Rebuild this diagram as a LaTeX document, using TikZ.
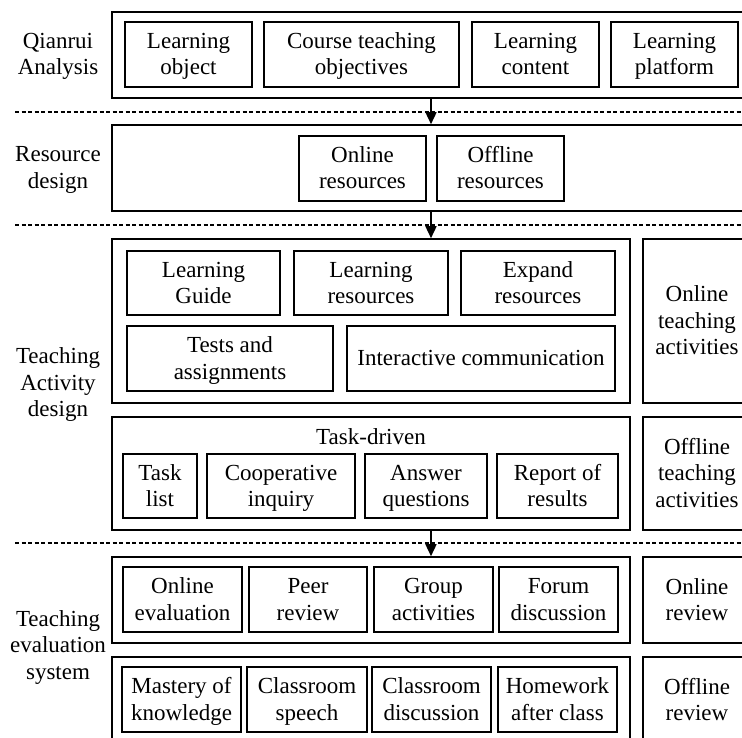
\documentclass[tikz,border=0pt]{standalone}
\usepackage{fontspec}
\setmainfont{Liberation Serif}
\usepackage{array}
\usepackage{tikz}
\usetikzlibrary{arrows.meta,positioning}

% every text line sits on a strut of 20.5pt up and 6pt down
\newcommand{\boxtext}[1]{\begin{tabular}{@{}>{\rule[-6pt]{0pt}{26.5pt}}c@{}}#1\end{tabular}}

\begin{document}
\begin{tikzpicture}[
    x=1pt, y=-1pt,
    every node/.style={font=\fontsize{23}{10}\selectfont, inner sep=0pt},
    frame/.style 2 args={draw, line width=1.6pt, minimum width=#1pt, minimum height=#2pt},
    item/.style 2 args={draw, line width=1.6pt, minimum width=#1pt, minimum height=#2pt},
    sep/.style={line width=1.5pt, dash pattern=on 4pt off 2.5pt},
    arr/.style={-{Triangle[length=12pt, width=11pt]}, line width=1.5pt}
]
    \useasboundingbox (0,0) rectangle (742,738);
    \clip (0,0) rectangle (742,738);

    % stage 1: analysis
    \node[frame={638}{86}] (ana) at (431,55) {};
    \node[item={127}{65}] (obj) at (188.5,54.5) {\boxtext{Learning\\object}};
    \node[item={195}{65}] (goal) at (361.5,54.5) {\boxtext{Course teaching\\objectives}};
    \node[item={127}{65}] (cont) at (535.5,54.5) {\boxtext{Learning\\content}};
    \node[item={127}{65}] (plat) at (674.5,54.5) {\boxtext{Learning\\platform}};
    \node (anaL) at (58,54.5) {\boxtext{Qianrui\\Analysis}};
    \draw[sep] (15,112) -- (742,112);

    % stage 2: resources
    \node[frame={638}{86}] (res) at (431,168) {};
    \node[item={127}{65}] (onres) at (362.5,168.5) {\boxtext{Online\\resources}};
    \node[item={127}{65}] (offres) at (500.5,168.5) {\boxtext{Offline\\resources}};
    \node (resL) at (58,168) {\boxtext{Resource\\design}};
    \draw[sep] (15,225) -- (742,225);

    % stage 3: teaching activities
    \node[frame={518}{164}] (act) at (371,321) {};
    \node[item={153}{64}] (guide) at (203.5,283) {\boxtext{Learning\\Guide}};
    \node[item={154}{64}] (lres) at (371,283) {\boxtext{Learning\\resources}};
    \node[item={154}{64}] (xres) at (538,283) {\boxtext{Expand\\resources}};
    \node[item={206}{65}] (test) at (230,358.5) {\boxtext{Tests and\\assignments}};
    \node[item={268}{65}] (comm) at (481,358.5) {\boxtext{Interactive communication}};
    \node[frame={108}{164}] (onact) at (697,321) {\boxtext{Online\\teaching\\activities}};

    \node[frame={518}{113}] (task) at (371,473.5) {};
    \node (taskL) at (371,437.5) {\boxtext{Task-driven}};
    \node[item={74}{64}] (list) at (160,486) {\boxtext{Task\\list}};
    \node[item={148}{64}] (coop) at (281,486) {\boxtext{Cooperative\\inquiry}};
    \node[item={122}{64}] (ans) at (426,486) {\boxtext{Answer\\questions}};
    \node[item={121}{64}] (rep) at (557.5,486) {\boxtext{Report of\\results}};
    \node[frame={108}{113}] (offact) at (697,473.5) {\boxtext{Offline\\teaching\\activities}};
    \node (actL) at (58,383) {\boxtext{Teaching\\Activity\\design}};
    \draw[sep] (15,543) -- (742,543);

    % stage 4: evaluation
    \node[frame={518}{86}] (oneval) at (371,600) {};
    \node[item={119}{65}] (oe) at (182.5,599.5) {\boxtext{Online\\evaluation}};
    \node[item={118}{65}] (peer) at (308,599.5) {\boxtext{Peer\\review}};
    \node[item={119}{65}] (grp) at (433.5,599.5) {\boxtext{Group\\activities}};
    \node[item={119}{65}] (forum) at (558.5,599.5) {\boxtext{Forum\\discussion}};
    \node[frame={108}{86}] (onrev) at (697,600) {\boxtext{Online\\review}};

    \node[frame={518}{86}] (offeval) at (371,700) {};
    \node[item={119}{65}] (mast) at (181.5,699.5) {\boxtext{Mastery of\\knowledge}};
    \node[item={120}{65}] (speech) at (307,699.5) {\boxtext{Classroom\\speech}};
    \node[item={119}{65}] (disc) at (431.5,699.5) {\boxtext{Classroom\\discussion}};
    \node[item={119}{65}] (hw) at (557.5,699.5) {\boxtext{Homework\\after class}};
    \node[frame={108}{86}] (offrev) at (697,700) {\boxtext{Offline\\review}};
    \node (evalL) at (58,645.5) {\boxtext{Teaching\\evaluation\\system}};

    % flow between stages
    \draw[arr] (ana.south) -- (res.north);
    \draw[arr] (res.south) -- (res.south |- act.north);
    \draw[arr] (res.south |- task.south) -- (res.south |- oneval.north);
\end{tikzpicture}
\end{document}
